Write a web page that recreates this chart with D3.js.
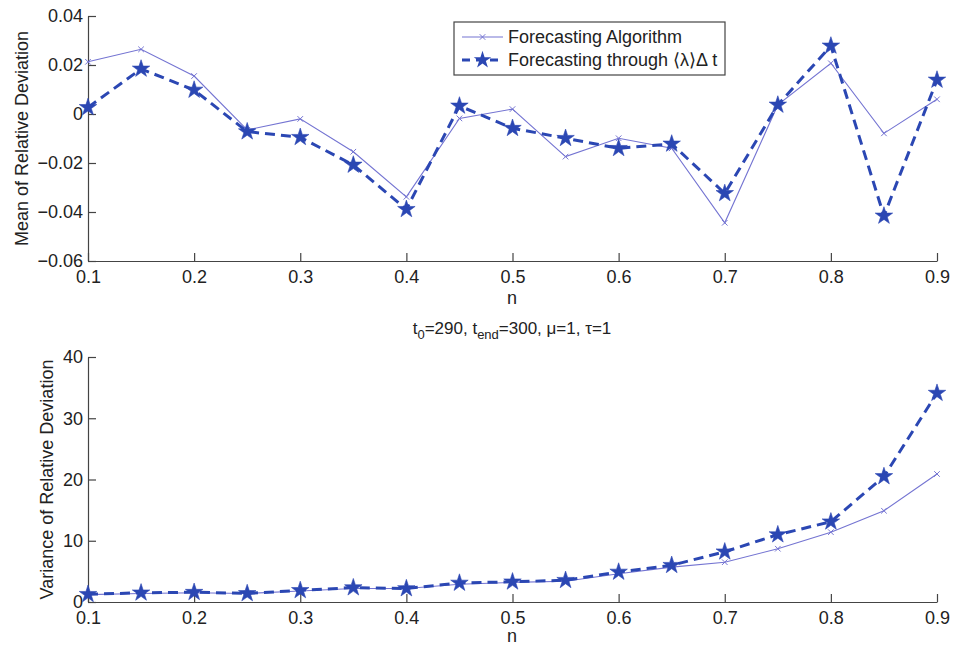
<!DOCTYPE html>
<html><head><meta charset="utf-8">
<script src="https://cdn.jsdelivr.net/npm/d3@7"></script>
<style>
body{margin:0;background:#fff;}
text{font-family:"Liberation Sans",Arial,Helvetica,sans-serif;fill:#222;}
</style></head>
<body><svg id="c" width="956" height="645"></svg>
<script>
const nValues = [0.1,0.15,0.2,0.25,0.3,0.35,0.4,0.45,0.5,0.55,0.6,0.65,0.7,0.75,0.8,0.85,0.9];
const meanAlgorithm = [0.0213,0.0264,0.0155,-0.0065,-0.002,-0.0154,-0.0338,-0.0018,0.002,-0.0174,-0.0099,-0.014,-0.0444,0.0037,0.0207,-0.0079,0.006];
const meanLambda = [0.0027,0.0184,0.0098,-0.0072,-0.0095,-0.0208,-0.0389,0.0033,-0.0058,-0.0099,-0.014,-0.0122,-0.0324,0.0037,0.0278,-0.0416,0.0139];
const varAlgorithm = [1.2,1.4,1.5,1.4,1.8,2.2,2.2,2.9,3.2,3.4,4.6,5.7,6.5,8.7,11.4,14.9,20.9];
const varLambda = [1.26,1.5,1.6,1.4,1.9,2.35,2.2,3.1,3.3,3.55,4.9,6.0,8.2,11.0,13.1,20.5,34.1];
const xTicks = [0.1,0.2,0.3,0.4,0.5,0.6,0.7,0.8,0.9];
const meanTicks = [-0.06,-0.04,-0.02,0,0.02,0.04];
const varTicks = [0,10,20,30,40];
const seriesNames = ["Forecasting Algorithm","Forecasting through \u27E8\u03BB\u27E9\u0394 t"];

const svg = d3.select("#c");
const FS = 18;
const algColor = "#7474d2", lamColor = "#2b47b3", axisColor = "#444";

const x = d3.scaleLinear().domain([0.1,0.9]).range([88,937]);
const yTop = d3.scaleLinear().domain([-0.06,0.04]).range([261,16]);
const yBot = d3.scaleLinear().domain([0,40]).range([602,357]);

function panel(y, yTicks, yFmt, algData, lamData, ylabel, ylabelX){
  const g = svg.append("g");
  const ax = g.append("g").attr("transform",`translate(0,${y.range()[0]})`)
    .call(d3.axisBottom(x).tickValues(xTicks).tickFormat(d3.format(".1f")).tickSizeInner(-8).tickSizeOuter(0).tickPadding(9));
  const ay = g.append("g").attr("transform",`translate(${x.range()[0]},0)`)
    .call(d3.axisLeft(y).tickValues(yTicks).tickFormat(yFmt).tickSizeInner(-8).tickSizeOuter(0).tickPadding(5));
  [ax,ay].forEach(a=>{
    a.selectAll("path,line").attr("stroke",axisColor).attr("stroke-width",1.2);
    a.selectAll("text").attr("font-size",FS).attr("fill","#222").attr("font-family","Liberation Sans, Arial, sans-serif");
  });
  ax.selectAll("text").attr("dy","0.71em");
  const line = d3.line().x((d,i)=>x(nValues[i])).y(d=>y(d));
  g.append("path").datum(algData).attr("d",line).attr("fill","none").attr("stroke",algColor).attr("stroke-width",1.1);
  g.selectAll(".xm").data(algData).enter().append("path")
    .attr("d",d3.symbol(d3.symbolX,22)()).attr("transform",(d,i)=>`translate(${x(nValues[i])},${y(d)})`)
    .attr("stroke",algColor).attr("stroke-width",1).attr("fill","none");
  g.append("path").datum(lamData).attr("d",line).attr("fill","none").attr("stroke",lamColor).attr("stroke-width",3).attr("stroke-dasharray","10,6");
  g.selectAll(".st").data(lamData).enter().append("path")
    .attr("d",d3.symbol(d3.symbolStar,95)()).attr("transform",(d,i)=>`translate(${x(nValues[i])},${y(d)})`)
    .attr("fill",lamColor).attr("stroke",lamColor).attr("stroke-width",0.6);
  const ymid = (y.range()[0]+y.range()[1])/2;
  g.append("text").attr("transform",`translate(${ylabelX},${ymid}) rotate(-90)`).attr("text-anchor","middle")
    .attr("dy","0.35em").attr("font-size",FS).text(ylabel);
  return g;
}

const meanFmt = d => d===0 ? "0" : d3.format(".2f")(d);
panel(yTop, meanTicks, meanFmt, meanAlgorithm, meanLambda, "Mean of Relative Deviation", 22);
panel(yBot, varTicks, d3.format("d"), varAlgorithm, varLambda, "Variance of Relative Deviation", 47);

svg.append("text").attr("x",512).attr("y",304).attr("text-anchor","middle").attr("font-size",FS).text("n");
svg.append("text").attr("x",512).attr("y",642).attr("text-anchor","middle").attr("font-size",FS).text("n");

// title
const t = svg.append("text").attr("x",512).attr("y",334).attr("text-anchor","middle").attr("font-size",17);
t.append("tspan").text("t");
t.append("tspan").attr("dy",5).attr("font-size",13).text("0");
t.append("tspan").attr("dy",-5).text("=290, t");
t.append("tspan").attr("dy",5).attr("font-size",13).text("end");
t.append("tspan").attr("dy",-5).text("=300, \u03BC=1, \u03C4=1");

// legend
const lg = svg.append("g");
lg.append("rect").attr("x",454).attr("y",22).attr("width",271).attr("height",53).attr("fill","#fff").attr("stroke",axisColor).attr("stroke-width",1.2);
const rows = [37,60];
lg.append("line").attr("x1",462).attr("x2",503).attr("y1",rows[0]).attr("y2",rows[0]).attr("stroke",algColor).attr("stroke-width",1.1);
lg.append("path").attr("d",d3.symbol(d3.symbolX,22)()).attr("transform",`translate(482.5,${rows[0]})`).attr("stroke",algColor).attr("fill","none");
lg.append("line").attr("x1",462).attr("x2",503).attr("y1",rows[1]).attr("y2",rows[1]).attr("stroke",lamColor).attr("stroke-width",3).attr("stroke-dasharray","8,6");
lg.append("path").attr("d",d3.symbol(d3.symbolStar,95)()).attr("transform",`translate(482.5,${rows[1]})`).attr("fill",lamColor);
seriesNames.forEach((s,i)=>{
  lg.append("text").attr("x",508).attr("y",rows[i]).attr("dy","0.35em").attr("font-size",FS).text(s);
});
</script></body></html>
